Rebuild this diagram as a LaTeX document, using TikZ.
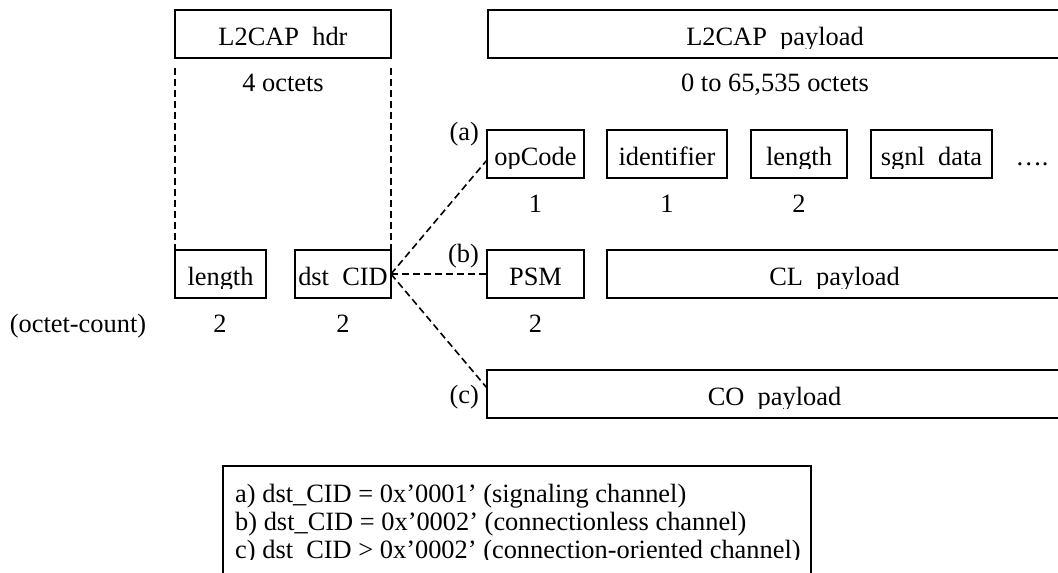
\documentclass[tikz,border=0pt]{standalone}
\usepackage{fontspec}
\setmainfont{Liberation Serif}
\usepackage{trimclip}
\newcommand{\cuttext}[1]{\clipbox{0pt {\depth-3pt} 0pt 0pt}{#1}}

\begin{document}
\begin{tikzpicture}[x=1pt, y=-1pt,
  every node/.style={font=\fontsize{26.4}{28}\selectfont, inner sep=0pt},
  fieldbox/.style={draw, line width=2pt, outer sep=0pt, anchor=north west,
    minimum width=#1, minimum height=48pt, text height=35pt, text depth=13pt},
  guide/.style={line width=1.6pt, dash pattern=on 7pt off 4pt}]
  \useasboundingbox (0,0) rectangle (1058,573);
  \clip (0,0) rectangle (1058,573);

  % Header and payload
  \node[fieldbox=216pt] (hdr) at (175,10) {L2CAP~~hdr};
  \node[fieldbox=574pt] (payload) at (488,10) {\cuttext{L2CAP~~payload}};
  \node[anchor=base] (hdrsize) at (283,91) {4 octets};
  \node[anchor=base] (paysize) at (775,91) {0 to 65,535 octets};

  % Header fields
  \node[fieldbox=91pt] (len) at (175,250) {\cuttext{length}};
  \node[fieldbox=96pt] (cid) at (295,250) {dst~~CID};
  \draw[guide] ([yshift=-10pt]hdr.south west) -- (len.north west);
  \draw[guide] ([yshift=-10pt]hdr.south east) -- (cid.north east);
  \node[anchor=base] (count) at (78,332) {(octet-count)};
  \node[anchor=base] (lensize) at (220,332) {2};
  \node[anchor=base] (cidsize) at (343,332) {2};

  % Row (a): signaling
  \node[anchor=base east] (taga) at (479,140) {(a)};
  \node[fieldbox=97pt] (opcode) at (487,130) {\cuttext{opCode}};
  \node[fieldbox=120pt] (ident) at (607,130) {identifier};
  \node[fieldbox=96pt] (alen) at (751,130) {\cuttext{length}};
  \node[fieldbox=121pt] (sdata) at (871,130) {\cuttext{sgnl~~data}};
  \node[anchor=base] (more) at (1032,165) {….};
  \node[anchor=base] (opsize) at (535.5,212) {1};
  \node[anchor=base] (idsize) at (667,212) {1};
  \node[anchor=base] (alsize) at (799,212) {2};

  % Row (b): connectionless
  \node[anchor=base east] (tagb) at (479,262) {(b)};
  \node[fieldbox=97pt] (psm) at (487,250) {PSM};
  \node[fieldbox=455pt] (clpay) at (607,250) {\cuttext{CL~~payload}};
  \node[anchor=base] (psmsize) at (535.5,332) {2};

  % Row (c): connection-oriented
  \node[anchor=base east] (tagc) at (479,403) {(c)};
  \node[fieldbox=575pt] (copay) at (487,370) {\cuttext{CO~~payload}};

  % dst CID selects the row
  \draw[guide] (cid.east) -- ([yshift=-6pt]opcode.west);
  \draw[guide] (cid.east) -- (psm.west);
  \draw[guide] (cid.east) -- ([yshift=6pt]copay.west);

  % Legend
  \draw[line width=2pt] (223,466) rectangle (811,620);
  \begin{scope}
    \clip (223,466) rectangle (811,559.3);
    \node[anchor=base west] (keya) at (235,502) {a) dst\_CID = 0x’0001’ (signaling channel)};
    \node[anchor=base west] (keyb) at (235,530) {b) dst\_CID = 0x’0002’ (connectionless channel)};
    \node[anchor=base west] (keyc) at (235,558) {c) dst\_CID > 0x’0002’ (connection-oriented channel)};
  \end{scope}
\end{tikzpicture}
\end{document}
